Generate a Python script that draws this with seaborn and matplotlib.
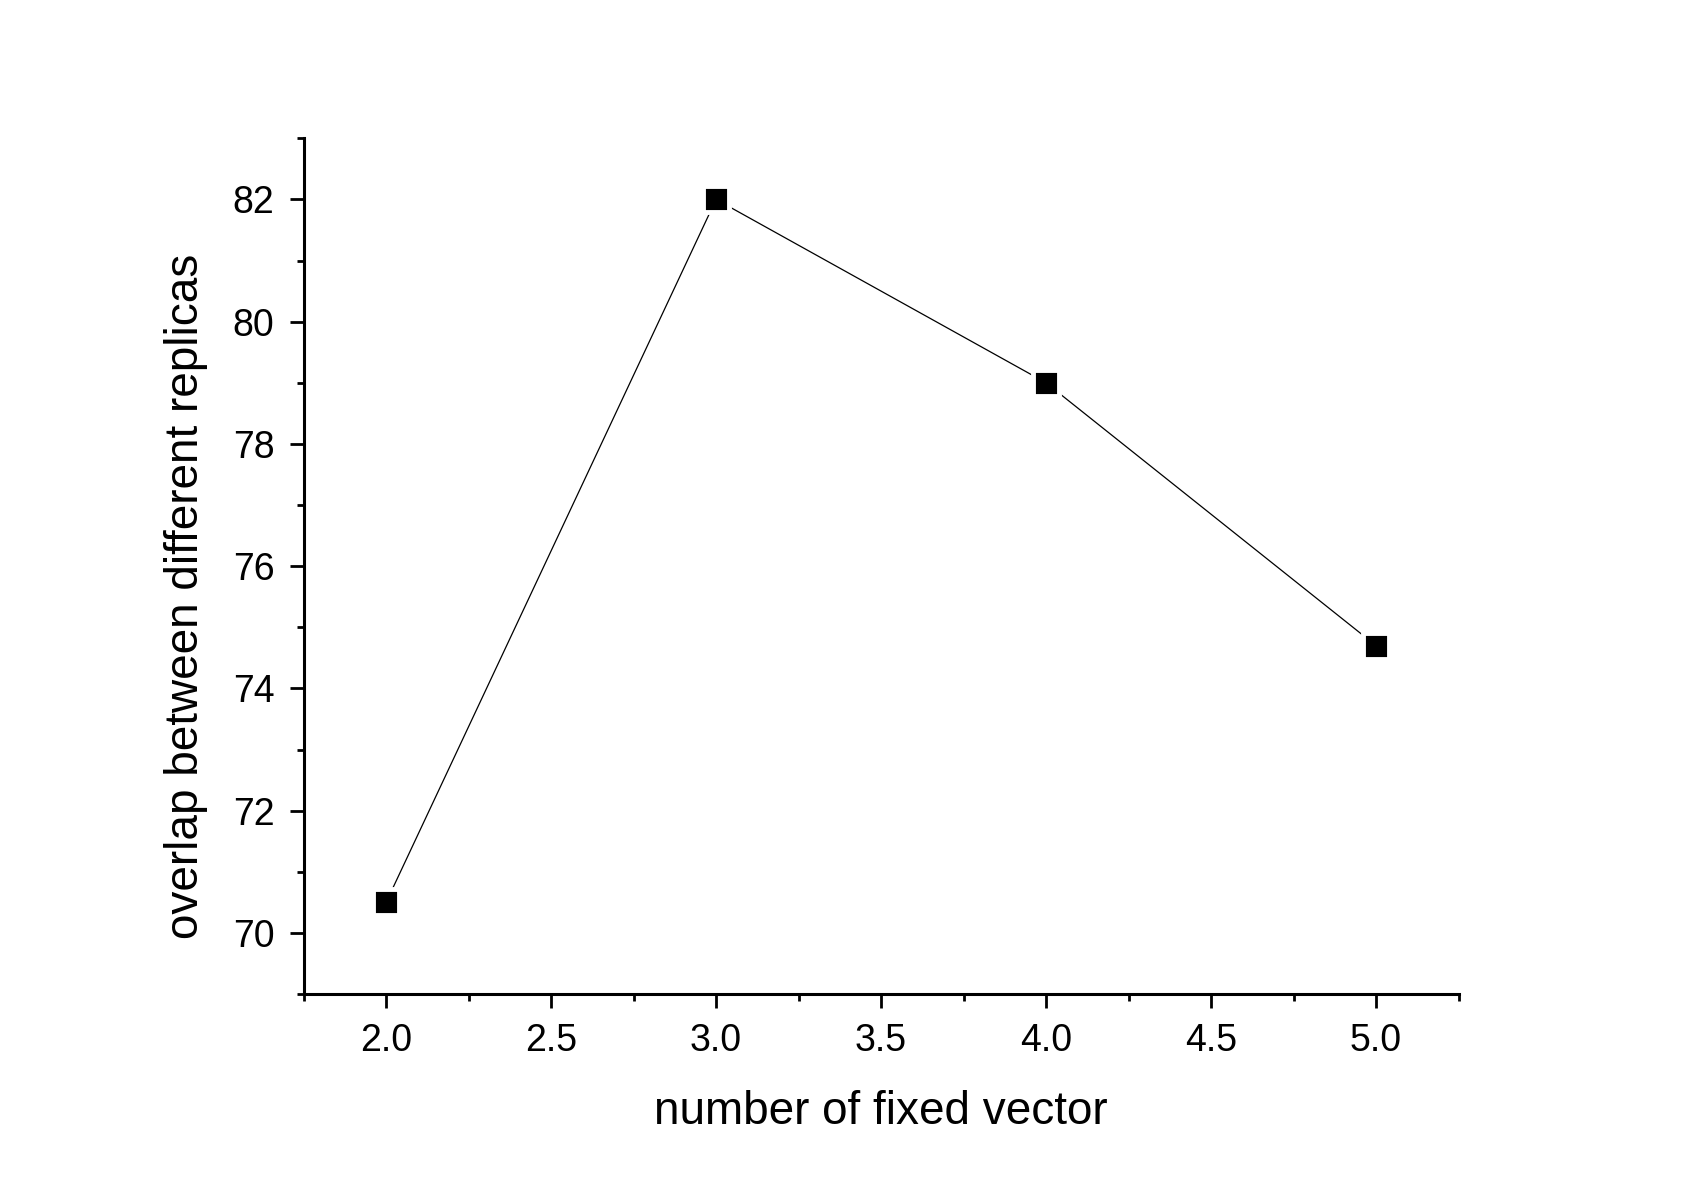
import matplotlib
matplotlib.use("Agg")
import matplotlib.pyplot as plt
import seaborn as sns
import pandas as pd
from matplotlib.ticker import MultipleLocator, FormatStrFormatter

fixed_vectors = [2.0, 3.0, 4.0, 5.0]
overlap = [70.5, 82.0, 79.0, 74.7]

data = pd.DataFrame({"n": fixed_vectors, "overlap": overlap})

sns.set_style("ticks")
plt.rcParams['font.family'] = ['Liberation Sans', 'DejaVu Sans']

fig = plt.figure(figsize=(16.96, 11.92), dpi=100)
ax = fig.add_axes([0.179, 0.166, 0.681, 0.718])

# line first, then markers with white rim so the line stops short of them
sns.lineplot(data=data, x="n", y="overlap", ax=ax, color="black", linewidth=0.9)
ax.plot(data["n"], data["overlap"], linestyle="none", marker="s",
        markersize=18.5, markerfacecolor="black", markeredgecolor="white",
        markeredgewidth=3.5, zorder=3)

ax.set_xlim(1.75, 5.25)
ax.set_ylim(69, 83)
ax.xaxis.set_major_locator(MultipleLocator(0.5))
ax.xaxis.set_minor_locator(MultipleLocator(0.25))
ax.yaxis.set_major_locator(MultipleLocator(2))
ax.yaxis.set_minor_locator(MultipleLocator(1))
ax.xaxis.set_major_formatter(FormatStrFormatter("%.1f"))

sns.despine(ax=ax)
for s in ["left", "bottom"]:
    ax.spines[s].set_linewidth(2.2)
    ax.spines[s].set_color("black")
ax.tick_params(which="major", length=10, width=2, direction="out",
               labelsize=27, colors="black", pad=11)
ax.tick_params(which="minor", length=5, width=2, direction="out", colors="black")

ax.set_xlabel("number of fixed vector", fontsize=33, labelpad=22, color="black")
ax.set_ylabel("overlap between different replicas", fontsize=33, color="black")
ax.yaxis.set_label_coords(-0.083, 0.465)

fig.savefig("out.png", dpi=100, facecolor="white")
